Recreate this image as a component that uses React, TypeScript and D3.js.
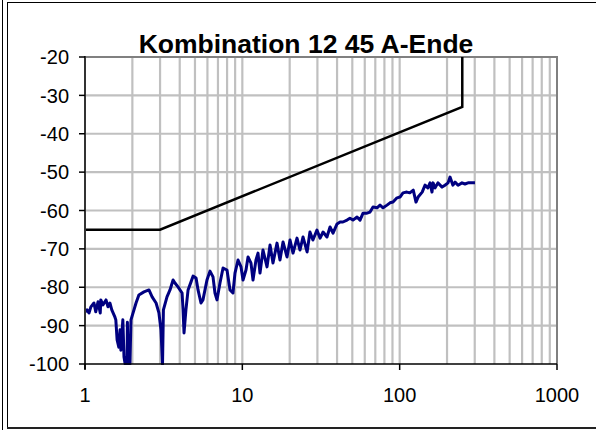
import React from "react";
import * as d3 from "d3";

const W = 596;
const H = 430;
const MARGINS = { top: 57, right: 39, bottom: 66, left: 85 };

const TITLE = "Kombination 12 45 A-Ende";
const X_TICKS = [1, 10, 100, 1000];
const Y_TICKS = [-100, -90, -80, -70, -60, -50, -40, -30, -20];

// limit line (black)
const limitFreq = [1, 3, 250, 250];
const limitDb = [-65, -65, -33, -20];

// measured curve (navy)
const measFreq = [
  1.0, 1.03, 1.06, 1.09, 1.14, 1.17, 1.21, 1.25, 1.26, 1.3, 1.36, 1.4, 1.44,
  1.48, 1.55, 1.57, 1.6, 1.64, 1.67, 1.69, 1.74, 1.77, 1.8, 1.85, 1.86, 1.88,
  1.93, 1.96, 2.11, 2.2, 2.37, 2.55, 2.67, 2.83, 2.95, 3.04, 3.11, 3.15, 3.32,
  3.47, 3.63, 3.73, 3.9, 4.14, 4.2, 4.26, 4.38, 4.52, 4.72, 4.86, 5.08, 5.23,
  5.46, 5.62, 5.96, 6.23, 6.51, 6.7, 6.9, 7.21, 7.54, 7.99, 8.35, 8.72, 8.98,
  9.39, 9.81, 10.1, 10.55, 10.87, 11.35, 11.69, 12.21, 12.58, 12.95, 13.53,
  14.35, 15.0, 15.66, 16.61, 17.35, 18.14, 19.23, 20.1, 21.0, 22.26, 23.26,
  24.3, 25.8, 26.9, 28.1, 29.8, 31.2, 32.6, 34.5, 36.1, 37.7, 40.0, 41.8, 43.6,
  46.3, 48.3, 50.5, 53.6, 56.0, 58.5, 62.0, 64.8, 67.7, 71.8, 75.0, 78.4, 83.1,
  86.8, 90.7, 96.2, 100.5, 105, 111, 116, 122, 127, 131, 139, 145, 151, 156,
  160.5, 163, 168, 175, 186, 194, 203, 209, 218, 225, 235, 249, 260, 272, 288,
  301,
];
const measDb = [
  -86.4, -85.9, -86.7, -85.1, -84.1, -86.4, -83.8, -86.7, -83.3, -84.6, -83.3,
  -85.1, -84.1, -85.9, -87.8, -88.5, -93.7, -95.6, -91.1, -96.4, -88.5, -98.2,
  -100, -100, -89.1, -100, -100, -88.5, -84.1, -82.0, -81.2, -80.7, -82.5,
  -84.1, -86.7, -91.1, -100, -85.9, -82.5, -80.7, -78.1, -78.9, -79.9, -81.5,
  -85.9, -91.9, -85.9, -80.7, -78.6, -77.1, -77.6, -80.7, -84.1, -83.3, -78.1,
  -75.8, -77.3, -81.5, -83.3, -78.9, -75.0, -75.5, -80.7, -81.5, -76.3, -72.9,
  -74.7, -78.1, -75.5, -72.1, -73.7, -78.1, -72.9, -71.1, -76.3, -70.3, -74.7,
  -69.0, -73.7, -68.5, -72.9, -68.2, -72.1, -67.7, -71.1, -67.2, -70.3, -66.9,
  -70.8, -65.6, -67.7, -65.1, -67.2, -65.6, -66.9, -64.3, -65.9, -63.5, -63.0,
  -63.0, -62.5, -62.0, -62.5, -61.7, -62.5, -60.7, -60.7, -60.4, -59.1, -59.3,
  -58.6, -59.3, -58.6, -58.0, -57.8, -56.7, -56.5, -55.4, -55.2, -55.4, -54.7,
  -57.8, -56.5, -55.2, -53.4, -54.1, -52.8, -55.2, -52.8, -54.1, -52.8, -53.9,
  -53.4, -52.8, -51.3, -53.4, -52.6, -53.4, -52.8, -53.1, -52.8, -52.8, -52.8,
];

const FONT = "'Liberation Sans', Arial, sans-serif";

const App = () => {
  const x = d3
    .scaleLog()
    .domain([1, 1000])
    .range([MARGINS.left, W - MARGINS.right]);
  const y = d3
    .scaleLinear()
    .domain([-100, -20])
    .range([H - MARGINS.bottom, MARGINS.top]);

  const minorX: number[] = [];
  [1, 10, 100].forEach((dec) => {
    for (let k = 2; k <= 9; k++) minorX.push(dec * k);
  });

  const line = d3
    .line<[number, number]>()
    .x((d) => x(d[0]))
    .y((d) => y(d[1]));

  const limitPts = limitFreq.map((f, i) => [f, limitDb[i]] as [number, number]);
  const measPts = measFreq.map((f, i) => [f, measDb[i]] as [number, number]);

  const [x0, x1] = x.range();
  const [y0, y1] = y.range();

  return (
    <svg
      width={W}
      height={H}
      style={{ position: "absolute", left: 0, top: 0, background: "#fff" }}
      fontFamily={FONT}
    >
      {/* outer frame */}
      <line x1={2.5} x2={2.5} y1={0} y2={H} stroke="#000" strokeWidth={1} />
      <rect
        x={7.5}
        y={2.5}
        width={W}
        height={H - 4}
        fill="none"
        stroke="#000"
        strokeWidth={1}
      />
      <line x1={7} x2={W} y1={428} y2={428} stroke="#222" strokeWidth={2} />

      <text
        x={306}
        y={53}
        textAnchor="middle"
        fontWeight="bold"
        fontSize={26.5}
        fill="#000"
      >
        {TITLE}
      </text>

      <defs>
        <clipPath id="plot">
          <rect x={x0} y={y1} width={x1 - x0} height={y0 - y1 + 1} />
        </clipPath>
      </defs>

      {/* grid */}
      {minorX.concat([10, 100]).map((v) => (
        <line
          key={"gx" + v}
          x1={x(v)}
          x2={x(v)}
          y1={y1}
          y2={y0}
          stroke="#c0c0c0"
          strokeWidth={2.2}
        />
      ))}
      {Y_TICKS.slice(1, -1).map((v) => (
        <line
          key={"gy" + v}
          x1={x0}
          x2={x1}
          y1={y(v)}
          y2={y(v)}
          stroke="#c0c0c0"
          strokeWidth={2.2}
        />
      ))}
      {/* plot border top/right */}
      <line x1={x0} x2={x1 + 1} y1={y1} y2={y1} stroke="#808080" strokeWidth={2} />
      <line x1={x1} x2={x1} y1={y1} y2={y0} stroke="#808080" strokeWidth={2} />

      {/* series */}
      <g clipPath="url(#plot)">
        <path
          d={line(measPts)!}
          fill="none"
          stroke="#000080"
          strokeWidth={3}
          strokeLinejoin="round"
        />
      </g>
      <path
        d={line(limitPts)!}
        fill="none"
        stroke="#000"
        strokeWidth={2.5}
        strokeLinejoin="miter"
      />

      {/* axes */}
      <line x1={x0} x2={x0} y1={y1 - 1} y2={y0 + 5} stroke="#333" strokeWidth={2} />
      <line x1={x0} x2={x1} y1={y0} y2={y0} stroke="#000" strokeWidth={1.5} />
      {Y_TICKS.map((v) => (
        <g key={"ty" + v}>
          <line x1={x0 - 6} x2={x0} y1={y(v)} y2={y(v)} stroke="#000" strokeWidth={1.5} />
          <text
            x={69}
            y={y(v)}
            dy="0.36em"
            textAnchor="end"
            fontSize={20}
            fill="#000"
          >
            {v}
          </text>
        </g>
      ))}
      {X_TICKS.map((v) => (
        <g key={"tx" + v}>
          <line x1={x(v)} x2={x(v)} y1={y0} y2={y0 + 6} stroke="#000" strokeWidth={1.5} />
          <text
            x={x(v)}
            y={402}
            textAnchor="middle"
            fontSize={20}
            fill="#000"
          >
            {v}
          </text>
        </g>
      ))}
    </svg>
  );
};

export default App;
